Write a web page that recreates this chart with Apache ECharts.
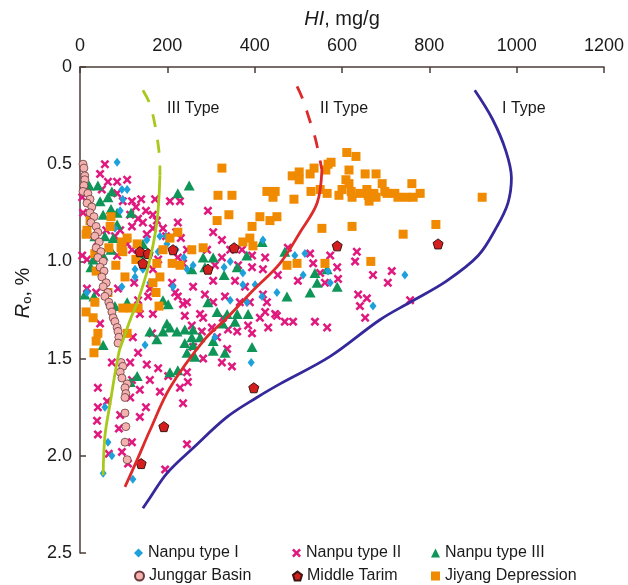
<!DOCTYPE html>
<html><head><meta charset="utf-8">
<script src="https://cdn.jsdelivr.net/npm/echarts/dist/echarts.min.js"></script>
<style>html,body{margin:0;padding:0;background:#fff}#c{width:628px;height:585px}</style>
</head><body><div id="c"></div>
<script>
// ---- data: [HI (mg/g), Ro (%)] ----
const nanpuI = [[85,0.49],[96,0.63],[108,0.63],[98,0.68],[92,0.74],[80,0.83],[110,0.88],[153,0.89],[183,0.87],[197,0.87],[199,0.91],[179,0.95],[220,0.94],[238,0.98],[259,1.02],[245,1.04],[344,1.00],[213,1.13],[160,1.11],[126,1.04],[144,1.04],[126,1.08],[96,1.13],[16,1.16],[419,0.89],[330,1.03],[373,1.06],[401,1.12],[373,1.12],[417,1.18],[451,1.16],[492,0.97],[515,0.96],[568,1.05],[573,1.11],[511,1.07],[744,1.07],[671,1.23],[309,1.39],[344,1.20],[382,1.21],[392,1.52],[149,1.43],[57,1.75],[64,1.93],[73,2.00],[53,2.09],[121,2.12]];
const nanpuII = [[5,0.67],[7,0.75],[16,0.86],[5,0.97],[16,0.99],[16,1.14],[37,1.16],[46,1.32],
[57,0.50],[46,0.55],[64,0.59],[85,0.59],[108,0.58],[50,0.63],[85,0.65],[98,0.69],[119,0.69],[140,0.68],[172,0.68],[206,0.69],[229,0.69],[128,0.72],[151,0.74],[115,0.76],[167,0.76],[133,0.78],[176,0.79],[224,0.80],[144,0.80],[119,0.82],[92,0.84],[167,0.83],[190,0.83],[220,0.85],[197,0.87],[231,0.88],[153,0.86],[80,0.87],[60,0.84],[39,0.90],[108,0.91],[119,0.94],[85,0.97],[179,0.99],[293,0.74],[305,0.85],[325,0.89],[291,0.94],[245,0.94],[224,0.98],[236,1.01],[167,1.04],[211,1.11],[218,1.16],[259,1.13],[124,1.11],[87,1.14],[160,1.14],[156,1.18],[224,1.18],[133,1.20],[236,1.22],[275,1.27],[167,1.27],[137,1.27],[327,1.29],[339,1.35],[389,1.21],[394,1.37],[165,1.37],
[325,0.98],[344,0.94],[371,0.94],[394,0.97],[424,0.98],[362,1.02],[309,1.02],[394,1.03],[419,1.04],[476,0.93],[527,0.96],[573,0.97],[534,1.01],[589,1.03],[453,1.07],[499,1.10],[550,1.06],[561,1.11],[591,1.09],[634,0.95],[630,1.00],[671,1.07],[714,1.05],[705,1.11],[637,1.17],[657,1.19],[641,1.23],[653,1.29],[286,1.17],[305,1.10],[332,1.18],[355,1.10],[378,1.13],[419,1.17],[428,1.21],[447,1.27],[469,1.31],[488,1.31],[538,1.31],[566,1.34],[366,1.21],[385,1.33],[360,1.36],[282,1.29],[756,1.20],[245,1.21],[305,1.21],[424,1.26],[451,1.28],[240,1.28],[412,1.29],[431,1.34],[256,1.33],[279,1.36],[314,1.39],[259,1.44],[337,1.45],[282,1.50],[325,1.52],[348,1.54],[245,1.57],[247,1.62],[236,1.73],
[121,1.39],[133,1.47],[153,1.53],[115,1.52],[73,1.52],[119,1.61],[137,1.66],[115,1.70],[151,1.75],[41,1.65],[41,1.75],[62,1.72],[39,1.82],[41,1.89],[92,1.79],[89,1.86],[66,1.99],[96,1.98],[110,2.04],[119,1.93],[160,1.61],[179,1.55],[183,1.67],[202,1.59],[229,1.65],[302,1.34],[245,1.94],[195,2.07],[137,1.80]];
const nanpuIII = [[21,0.61],[41,0.61],[73,0.64],[64,0.67],[46,0.69],[71,0.73],[53,0.76],[85,0.75],[117,0.75],[224,0.65],[250,0.61],[85,0.81],[57,0.87],[76,0.88],[34,0.87],[71,0.94],[144,0.91],[137,0.96],[53,0.97],[30,0.99],[25,1.03],[282,0.98],[305,0.98],[256,1.04],[286,1.03],[330,1.07],[382,0.97],[417,0.90],[469,0.95],[360,1.03],[538,1.06],[543,1.11],[589,1.13],[566,1.04],[527,1.16],[474,1.18],[11,1.17],[32,1.18],[80,1.23],[108,1.21],[190,1.20],[202,1.22],[293,1.21],[314,1.26],[337,1.27],[360,1.27],[385,1.27],[327,1.32],[355,1.31],[199,1.32],[206,1.34],[160,1.36],[190,1.36],[222,1.36],[240,1.35],[259,1.35],[256,1.39],[275,1.39],[53,1.43],[176,1.40],[240,1.42],[259,1.43],[245,1.47],[263,1.49],[305,1.46],[332,1.47],[305,1.41],[394,1.44],[206,1.57],[224,1.56],[115,1.62],[131,1.59]];
const junggar = [[7,0.50],[9,0.52],[11,0.56],[11,0.58],[9,0.61],[7,0.64],[18,0.65],[23,0.68],[16,0.70],[27,0.72],[23,0.75],[32,0.77],[25,0.80],[37,0.82],[41,0.85],[34,0.87],[44,0.90],[37,0.93],[48,0.95],[41,0.98],[53,1.00],[46,1.03],[55,1.05],[50,1.08],[60,1.11],[53,1.13],[64,1.16],[57,1.18],[66,1.21],[69,1.23],[73,1.26],[76,1.29],[80,1.31],[85,1.34],[87,1.36],[89,1.39],[87,1.42],[94,1.52],[98,1.54],[92,1.57],[96,1.60],[108,1.63],[103,1.65],[105,1.68],[103,1.70],[103,1.78],[105,1.85],[103,1.93],[108,2.02]];
const tarim = [[137,0.95],[144,1.01],[156,0.96],[213,0.94],[293,1.04],[353,0.93],[589,0.92],[820,0.91],[398,1.65],[192,1.85],[140,2.04]];
const jiyang = [[611,0.44],[632,0.46],[486,0.56],[502,0.54],[502,0.58],[527,0.55],[536,0.52],[563,0.53],[568,0.50],[575,0.49],[616,0.53],[609,0.58],[616,0.60],[653,0.55],[678,0.55],[692,0.60],[760,0.60],[428,0.64],[447,0.64],[442,0.67],[529,0.64],[550,0.63],[566,0.65],[600,0.63],[593,0.66],[621,0.64],[623,0.67],[641,0.65],[657,0.63],[660,0.66],[673,0.65],[678,0.67],[662,0.69],[698,0.64],[703,0.65],[721,0.65],[728,0.67],[747,0.67],[763,0.67],[779,0.65],[921,0.67],[490,0.68],[412,0.77],[435,0.79],[451,0.77],[394,0.82],[554,0.83],[623,0.82],[740,0.86],[815,0.81],[325,0.52],[316,0.66],[348,0.66],[341,0.76],[314,0.79],[373,0.90],[389,0.88],[396,0.92],[282,0.93],[474,1.02],[497,1.01],[561,1.01],[666,1.00],
[224,0.85],[206,0.88],[256,0.94],[108,0.88],[96,0.90],[94,0.93],[69,0.82],[66,0.93],[23,0.79],[16,0.84],[14,0.86],[34,0.96],[82,1.02],[37,1.05],[131,0.91],[128,0.99],[190,0.94],[211,1.01],[229,1.02],[176,1.01],[183,1.08],[167,1.11],[174,1.16],[181,1.23],[133,1.24],[115,1.24],[34,1.21],[14,1.26],[30,1.29],[41,1.37],[37,1.41],[32,1.47],[71,0.77],[98,0.95],[103,1.08],[64,1.16],[98,1.24],[108,1.37]];
// kerogen evolution curves
const typeI = [[904,0.12],[945,0.27],[975,0.43],[988,0.57],[980,0.70],[955,0.82],[912,0.97],[840,1.10],[756,1.21],[687,1.30],[572,1.49],[458,1.63],[405,1.70],[337,1.80],[259,1.96],[199,2.09],[156,2.23],[144,2.27]];
const typeIIdash = [[497,0.10],[511,0.17],[524,0.26],[538,0.36],[548,0.46],[554,0.53]];
const typeII = [[554,0.53],[543,0.70],[504,0.85],[458,1.01],[396,1.15],[337,1.29],[286,1.40],[206,1.65],[160,1.87],[131,2.02],[103,2.16]];
const typeIIIdash = [[144,0.12],[160,0.19],[171,0.29],[179,0.40],[183,0.50],[183,0.56]];
const typeIII = [[183,0.56],[176,0.80],[156,1.03],[133,1.20],[115,1.30],[101,1.39],[89,1.47],[69,1.73],[57,1.90],[53,2.10]];
const xTicks = {min:0, max:1200, interval:200};
const yTicks = {min:0, max:2.5, interval:0.5};
const names = ['Nanpu type I','Nanpu type II','Nanpu type III','Junggar Basin','Middle Tarim','Jiyang Depression'];

const FONT = 'Liberation Sans, Arial, sans-serif';
const AX = '#4a3d38';
const crossPath = 'path://M2,0 L5,3 L8,0 L10,2 L7,5 L10,8 L8,10 L5,7 L2,10 L0,8 L3,5 L0,2 Z';
const pentPath = 'path://M5,0 L10,3.7 L8.1,10 L1.9,10 L0,3.7 Z';

const chart = echarts.init(document.getElementById('c'), null, {renderer:'canvas'});
function sc(name, data, symbol, size, color, border, bw) {
  return {type:'scatter', name, data, symbol, symbolSize:size,
    itemStyle:{color, borderColor:border||color, borderWidth:bw||0, opacity:1}, z:3};
}
function ln(data, color, dashed) {
  return {type:'line', data, smooth:0.35, showSymbol:false, symbol:'none', silent:true, z:5,
    lineStyle:{color, width:2.8, type: dashed ? [13,13] : 'solid', cap:'butt'}};
}
const legRows = [[names[0],134,545],[names[1],292,545],[names[2],431,545],[names[3],134,568],[names[4],292,568],[names[5],431,568]];
const option = {
  backgroundColor:'#fff',
  animation:false,
  grid:{left:80, right:24, top:67, bottom:32},
  xAxis:{type:'value', position:'top', min:xTicks.min, max:xTicks.max, interval:xTicks.interval,
    name:'{i|HI}, mg/g', nameLocation:'middle', nameGap:38,
    nameTextStyle:{fontFamily:FONT, fontSize:20, color:'#1a1a1a', rich:{i:{fontFamily:FONT, fontSize:20, fontStyle:'italic', color:'#1a1a1a'}}},
    axisLine:{show:true, lineStyle:{color:AX, width:1.5}},
    axisTick:{show:true, inside:true, length:6, lineStyle:{color:AX, width:1.5}},
    axisLabel:{fontFamily:FONT, fontSize:18, color:'#1a1a1a', margin:12, formatter:v => String(v)},
    splitLine:{show:false}},
  yAxis:{type:'value', inverse:true, min:yTicks.min, max:yTicks.max, interval:yTicks.interval,
    axisLine:{show:true, lineStyle:{color:AX, width:1.5}},
    axisTick:{show:true, inside:true, length:6, lineStyle:{color:AX, width:1.5}},
    axisLabel:{fontFamily:FONT, fontSize:18, color:'#1a1a1a', margin:8, padding:[12,0,0,0],
      formatter:v => v===0 ? '0' : v.toFixed(1)},
    splitLine:{show:false}},
  legend: legRows.map(r => ({data:[r[0]], left:r[1], top:r[2], padding:0, itemGap:0, itemWidth:9, itemHeight:9,
    textStyle:{fontFamily:FONT, fontSize:16, color:'#1a1a1a'}})),
  graphic:[
    {type:'text', left:167, top:101, style:{text:'III Type', font:'16px '+FONT, fill:'#1a1a1a'}},
    {type:'text', left:320, top:101, style:{text:'II Type', font:'16px '+FONT, fill:'#1a1a1a'}},
    {type:'text', left:502, top:101, style:{text:'I Type', font:'16px '+FONT, fill:'#1a1a1a'}},
    {type:'text', x:23, y:293, rotation:Math.PI/2,
      style:{text:'{i|R}{s|o}, %', align:'center', verticalAlign:'middle', fill:'#1a1a1a', font:'20px '+FONT,
        rich:{i:{fontStyle:'italic', fontSize:20, fontFamily:FONT, fill:'#1a1a1a'},
              s:{fontSize:13, fontFamily:FONT, fill:'#1a1a1a', padding:[8,0,0,0]}}}}
  ],
  series:[
    sc(names[1], nanpuII, crossPath, 9, '#e0197f'),
    sc(names[2], nanpuIII, 'triangle', [11,10], '#0f9558'),
    sc(names[0], nanpuI, 'diamond', [7,9], '#1ea0da'),
    sc(names[5], jiyang, 'rect', 9, '#f08a00'),
    sc(names[3], junggar, 'circle', 8, '#f3b2b0', '#6b3a3a', 0.8),
    sc(names[4], tarim, pentPath, 10, '#d3201e', '#3b1414', 1),
    ln(typeIIIdash, '#a8c81c', true),
    ln(typeIII, '#a8c81c', false),
    ln(typeIIdash, '#dd2a2a', true),
    ln(typeII, '#dd2a2a', false),
    ln(typeI, '#35289a', false)
  ]
};
chart.setOption(option);
</script></body></html>
